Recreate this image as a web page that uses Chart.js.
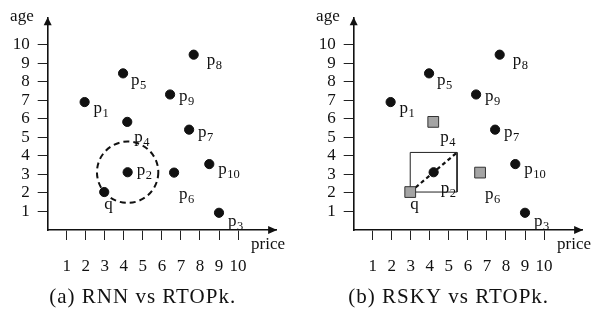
<!DOCTYPE html>
<html>
<head>
<meta charset="utf-8">
<script src="https://cdn.jsdelivr.net/npm/chart.js@4.4.1/dist/chart.umd.min.js"></script>
<style>
  html, body { margin: 0; padding: 0; background: #fff; }
  #wrap { position: relative; width: 592px; height: 324px; overflow: hidden; }
  #wrap canvas { position: absolute; top: 0; }
</style>
</head>
<body>
<div id="wrap">
  <canvas id="chartA" width="296" height="324" style="left:0"></canvas>
  <canvas id="chartB" width="286" height="324" style="left:306px"></canvas>
</div>
<script>
// Objects in the price/age space
const pointNames  = ['p1', 'p2', 'p3', 'p4', 'p5', 'p6', 'p7', 'p8', 'p9', 'p10', 'q'];
const priceValues = [1.94, 4.2, 9.0, 4.18, 3.96, 6.64, 7.43, 7.67, 6.43, 8.49, 2.97];
const ageValues   = [6.91, 3.12, 0.93, 5.84, 8.46, 3.1, 5.42, 9.47, 7.32, 3.56, 2.05];

// Axis tick labels
const priceTicks = [1, 2, 3, 4, 5, 6, 7, 8, 9, 10];
const ageTicks   = [1, 2, 3, 4, 5, 6, 7, 8, 9, 10];

// Far corner (price, age) of the window spanned by q and p2
const windowCorner = [5.43, 4.19];

// Objects drawn as grey squares in panel (b)
const squaredInB = ['q', 'p4', 'p6'];

const captions = ['(a) RNN vs RTOPk.', '(b) RSKY vs RTOPk.'];

// Label placement (pixel offset of the label baseline from its point)
const labelOffset = {
  p1: [9, 11], p2: [9, 3], p3: [9, 13], p4: [7, 20], p5: [8, 12],
  p6: [5, 26], p7: [9, 7], p8: [13, 10], p9: [9, 7], p10: [9, 10], q: [0, 17]
};
const labelOffsetB = { p2: [7, 21] };

const FONT = "'Liberation Serif', 'Times New Roman', serif";
Chart.defaults.font.family = FONT;
Chart.defaults.color = '#111';

const qIndex = pointNames.indexOf('q');
const p2Index = pointNames.indexOf('p2');

function overlayPlugin(panel) {
  return {
    id: 'overlay_' + panel,
    beforeDatasetsDraw(chart) {
      if (panel !== 'a') return;
      const { ctx, scales: { x, y } } = chart;
      // dashed circle around p2 through q
      const cx = x.getPixelForValue(priceValues[p2Index]);
      const cy = y.getPixelForValue(ageValues[p2Index]);
      const qx = x.getPixelForValue(priceValues[qIndex]);
      const qy = y.getPixelForValue(ageValues[qIndex]);
      const r = Math.hypot(qx - cx, qy - cy);
      ctx.save();
      ctx.strokeStyle = '#111';
      ctx.lineWidth = 2;
      ctx.setLineDash([6, 4]);
      ctx.beginPath();
      ctx.arc(cx, cy, r, 0, Math.PI * 2);
      ctx.stroke();
      ctx.restore();
    },
    afterDraw(chart) {
      const { ctx, chartArea: a } = chart;
      ctx.save();
      ctx.fillStyle = '#111';
      // arrow heads on the axes
      ctx.beginPath();
      ctx.moveTo(a.right + 1, a.bottom);
      ctx.lineTo(a.right - 8, a.bottom - 4);
      ctx.lineTo(a.right - 8, a.bottom + 4);
      ctx.closePath();
      ctx.fill();
      ctx.beginPath();
      ctx.moveTo(a.left, a.top - 1);
      ctx.lineTo(a.left - 4, a.top + 7);
      ctx.lineTo(a.left + 4, a.top + 7);
      ctx.closePath();
      ctx.fill();

      // axis names
      ctx.font = '17px ' + FONT;
      ctx.textBaseline = 'alphabetic';
      ctx.textAlign = 'right';
      ctx.fillText('age', a.left - 14, a.top + 3);
      ctx.fillText('price', a.right + 9, a.bottom + 19);

      // point labels
      const meta = chart.getDatasetMeta(0);
      ctx.textAlign = 'left';
      meta.data.forEach((el, i) => {
        const name = pointNames[i];
        const off = (panel === 'b' && labelOffsetB[name]) || labelOffset[name];
        const bx = el.x + off[0];
        const by = el.y + off[1];
        ctx.font = '17px ' + FONT;
        const base = name.charAt(0);
        ctx.fillText(base, bx, by);
        const sub = name.slice(1);
        if (sub) {
          const w = ctx.measureText(base).width;
          ctx.font = '12.5px ' + FONT;
          ctx.fillText(sub, bx + w + 0.5, by + 4);
        }
      });

      // caption
      ctx.font = '21px ' + FONT;
      ctx.letterSpacing = '1px';
      ctx.textAlign = 'center';
      ctx.fillText(captions[panel === 'a' ? 0 : 1], a.left + 95, 303);
      ctx.restore();
    }
  };
}

function buildChart(canvasId, panel) {
  const squares = panel === 'b' ? squaredInB : [];
  const isSquare = c => squares.includes(pointNames[c.dataIndex]);
  const points = pointNames.map((n, i) => ({ x: priceValues[i], y: ageValues[i] }));

  const datasets = [{
    data: points,
    order: 0,
    pointStyle: c => isSquare(c) ? 'rect' : 'circle',
    pointRadius: c => isSquare(c) ? 7.6 : 4.6,
    pointHoverRadius: c => isSquare(c) ? 7.6 : 4.6,
    backgroundColor: c => isSquare(c) ? '#a4a4a4' : '#111',
    borderColor: c => isSquare(c) ? '#333' : '#111',
    borderWidth: 1
  }];

  if (panel === 'b') {
    const qx = priceValues[qIndex], qy = ageValues[qIndex];
    const [cx, cy] = windowCorner;
    datasets.push({
      data: [{ x: qx, y: qy }, { x: qx, y: cy }, { x: cx, y: cy }, { x: cx, y: qy }, { x: qx, y: qy }],
      showLine: true, order: 2, borderColor: '#222', borderWidth: 1,
      pointRadius: 0, pointHoverRadius: 0, tension: 0, fill: false
    });
    datasets.push({
      data: [{ x: qx, y: qy }, { x: cx, y: cy }],
      showLine: true, order: 1, borderColor: '#111', borderWidth: 2.2,
      borderDash: [4, 3], pointRadius: 0, pointHoverRadius: 0, fill: false
    });
  }

  const axisCommon = {
    type: 'linear',
    grid: { drawOnChartArea: false, drawTicks: true, tickLength: 10, tickColor: '#222', tickWidth: 1 },
    border: { display: true, color: '#111', width: 1.6 }
  };

  return new Chart(document.getElementById(canvasId), {
    type: 'scatter',
    data: { datasets },
    options: {
      responsive: false,
      animation: false,
      events: [],
      layout: { padding: { top: 12.7, right: panel === 'a' ? 19.9 : 9.9, left: 0, bottom: 0 } },
      plugins: { legend: { display: false }, tooltip: { enabled: false } },
      scales: {
        x: Object.assign({}, axisCommon, {
          min: 0, max: 12,
          afterBuildTicks: s => { s.ticks = priceTicks.map(v => ({ value: v })); },
          afterFit: s => { s.height = 94; },
          ticks: { padding: 16, font: { size: 17 }, color: '#111', maxRotation: 0, autoSkip: false, callback: v => String(v) }
        }),
        y: Object.assign({}, axisCommon, {
          min: 0, max: 11.44,
          afterBuildTicks: s => { s.ticks = ageTicks.map(v => ({ value: v })); },
          afterFit: s => { s.width = 47.7; },
          ticks: { padding: 8, font: { size: 17 }, color: '#111', autoSkip: false, callback: v => String(v) }
        })
      }
    },
    plugins: [overlayPlugin(panel)]
  });
}

buildChart('chartA', 'a');
buildChart('chartB', 'b');
</script>
</body>
</html>
